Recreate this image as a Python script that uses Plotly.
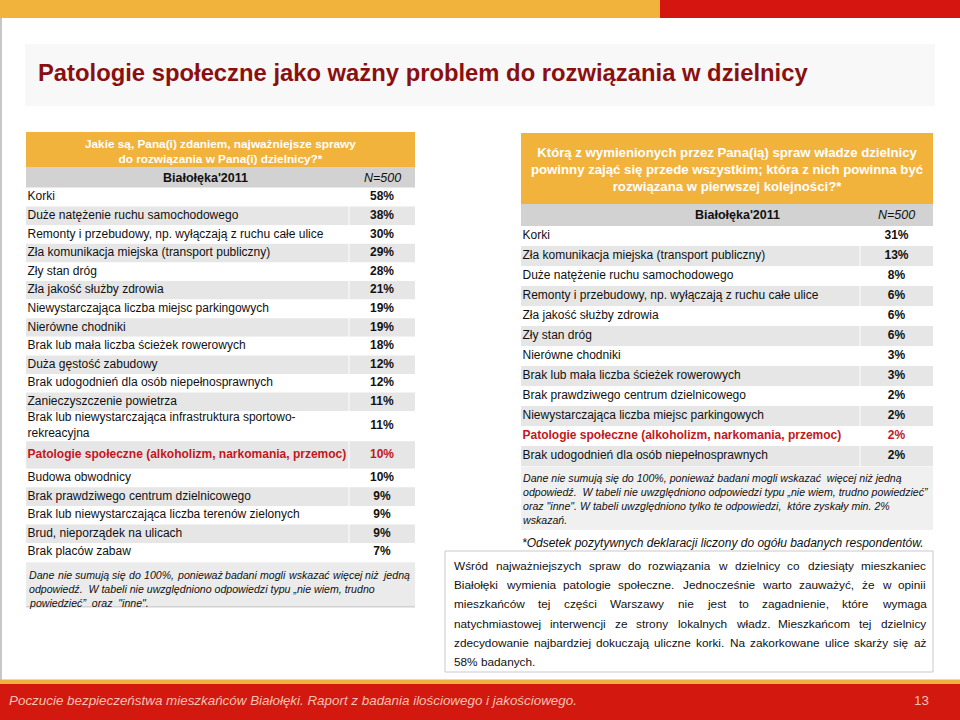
import plotly.graph_objects as go

# ---------------- data ----------------
title = "Patologie społeczne jako ważny problem do rozwiązania w dzielnicy"
left_question = ["Jakie są, Pana(i) zdaniem, najważniejsze sprawy",
                 "do rozwiązania w Pana(i) dzielnicy?*"]
right_question = ["Którą z wymienionych przez Pana(ią) spraw władze dzielnicy",
                  "powinny zająć się przede wszystkim; która z nich powinna być",
                  "rozwiązana w pierwszej kolejności?*"]
group_label = "Białołęka'2011"
n_label = "N=500"
highlight = "Patologie społeczne (alkoholizm, narkomania, przemoc)"

left_items = [
    "Korki",
    "Duże natężenie ruchu samochodowego",
    "Remonty i przebudowy, np. wyłączają z ruchu całe ulice",
    "Zła komunikacja miejska (transport publiczny)",
    "Zły stan dróg",
    "Zła jakość służby zdrowia",
    "Niewystarczająca liczba miejsc parkingowych",
    "Nierówne chodniki",
    "Brak lub mała liczba ścieżek rowerowych",
    "Duża gęstość zabudowy",
    "Brak udogodnień dla osób niepełnosprawnych",
    "Zanieczyszczenie powietrza",
    "Brak lub niewystarczająca infrastruktura sportowo-<br>rekreacyjna",
    "Patologie społeczne (alkoholizm, narkomania, przemoc)",
    "Budowa obwodnicy",
    "Brak prawdziwego centrum dzielnicowego",
    "Brak lub niewystarczająca liczba terenów zielonych",
    "Brud, nieporządek na ulicach",
    "Brak placów zabaw",
]
left_values = [58, 38, 30, 29, 28, 21, 19, 19, 18, 12, 12, 11, 11, 10, 10, 9, 9, 9, 7]

right_items = [
    "Korki",
    "Zła komunikacja miejska (transport publiczny)",
    "Duże natężenie ruchu samochodowego",
    "Remonty i przebudowy, np. wyłączają z ruchu całe ulice",
    "Zła jakość służby zdrowia",
    "Zły stan dróg",
    "Nierówne chodniki",
    "Brak lub mała liczba ścieżek rowerowych",
    "Brak prawdziwego centrum dzielnicowego",
    "Niewystarczająca liczba miejsc parkingowych",
    "Patologie społeczne (alkoholizm, narkomania, przemoc)",
    "Brak udogodnień dla osób niepełnosprawnych",
]
right_values = [31, 13, 8, 6, 6, 6, 3, 3, 2, 2, 2, 2]

left_note = [
    "Dane nie sumują się do 100%, ponieważ badani mogli wskazać więcej niż jedną",
    "odpowiedź.  W tabeli nie uwzględniono odpowiedzi typu „nie wiem, trudno",
    "powiedzieć”  oraz  \"inne\".",
]
right_note = [
    "Dane nie sumują się do 100%, ponieważ badani mogli wskazać  więcej niż jedną",
    "odpowiedź.  W tabeli nie uwzględniono odpowiedzi typu „nie wiem, trudno powiedzieć”",
    "oraz \"inne\". W tabeli uwzględniono tylko te odpowiedzi,  które zyskały min. 2%",
    "wskazań.",
]
asterisk_note = "*Odsetek pozytywnych deklaracji liczony do ogółu badanych respondentów."
paragraph = [
    "Wśród najważniejszych spraw do rozwiązania w dzielnicy co dziesiąty mieszkaniec",
    "Białołęki wymienia patologie społeczne. Jednocześnie warto zauważyć, że w opinii",
    "mieszkańców tej części Warszawy nie jest to zagadnienie, które wymaga",
    "natychmiastowej interwencji ze strony lokalnych władz. Mieszkańcom tej dzielnicy",
    "zdecydowanie najbardziej dokuczają uliczne korki. Na zakorkowane ulice skarży się aż",
    "58% badanych.",
]
footer_text = "Poczucie bezpieczeństwa mieszkańców Białołęki. Raport z badania ilościowego i jakościowego."
page_number = "13"

# ---------------- style ----------------
FONT = "Liberation Sans, Arial, sans-serif"
ORANGE = "#F2B33D"
RED = "#D5150F"
DARKRED = "#8A0F0F"
HILITE = "#C4161C"
GRAY_ROW = "#E6E6E6"
GRAY_HEAD = "#D2D2D2"

# Arial / Liberation Sans advance widths (1/1000 em) for justification
AW = dict(zip("abcdefghijklmnopqrstuvwxyz",
              [556, 556, 500, 556, 556, 278, 556, 556, 222, 222, 500, 222, 833,
               556, 556, 556, 556, 333, 500, 278, 556, 500, 722, 500, 500, 500]))
AW.update(zip("ABCDEFGHIJKLMNOPQRSTUVWXYZ",
              [667, 667, 722, 722, 667, 611, 778, 722, 278, 500, 667, 556, 833,
               722, 778, 667, 778, 722, 667, 611, 722, 667, 944, 667, 667, 611]))
AW.update({c: 556 for c in "0123456789"})
AW.update({" ": 278, ".": 278, ",": 278, ";": 278, ":": 278, "%": 889, "(": 333,
           ")": 333, "-": 333, '"': 355, "'": 191, "„": 333, "”": 333, "?": 556,
           "*": 389, "ą": 556, "ć": 500, "ę": 556, "ł": 222, "ń": 556, "ó": 556,
           "ś": 500, "ź": 500, "ż": 500, "Ś": 667, "Ł": 556, "Ż": 611})


def text_width(s, size):
    return sum(AW.get(ch, 556) for ch in s) / 1000.0 * size


def text_lines(lines, x0, x1, y0, dy, size, italic=False, justify_rows=(), color="#111111"):
    out = []
    for i, line in enumerate(lines):
        y = y0 + i * dy
        words = line.split()
        if i in justify_rows and len(words) > 1:
            widths = [text_width(w, size) for w in words]
            gap = (x1 - x0 - sum(widths)) / (len(words) - 1)
            x = x0
            for w, wd in zip(words, widths):
                t = f"<i>{w}</i>" if italic else w
                out.append(dict(x=x, y=y, text=t, xanchor="left", yanchor="middle",
                                showarrow=False, borderpad=0,
                                font=dict(family=FONT, size=size, color=color)))
                x += wd + gap
        else:
            t = line.replace("  ", " &nbsp;")
            t = f"<i>{t}</i>" if italic else t
            out.append(dict(x=x0, y=y, text=t, xanchor="left", yanchor="middle",
                            showarrow=False, borderpad=0,
                            font=dict(family=FONT, size=size, color=color)))
    return out


fig = go.Figure()
shapes = []
annotations = []


def rect(x0, y0, x1, y1, fill, line=None, lw=0, layer="below"):
    shapes.append(dict(type="rect", xref="x", yref="y", x0=x0, y0=y0, x1=x1, y1=y1,
                       fillcolor=fill, line=dict(color=line or fill, width=lw), layer=layer))


def add_table(items, values, x0, xsep, x1, y_start, row_h, double_h, hi_h, start_white=True):
    heights = []
    for it in items:
        if "<br>" in it:
            heights.append(double_h)
        elif it == highlight:
            heights.append(hi_h)
        else:
            heights.append(row_h)
    centers, y = [], y_start
    for h in heights:
        centers.append(y + h / 2)
        y += h
    fills = [("white" if (i % 2 == 0) == start_white else GRAY_ROW) for i in range(len(items))]
    colors = [HILITE if it == highlight else "#111111" for it in items]
    fig.add_trace(go.Bar(orientation="h", y=centers, x=[xsep - 0.5 - x0] * len(items),
                         base=[x0] * len(items), width=heights,
                         marker=dict(color=fills, line=dict(width=0)),
                         hoverinfo="skip", showlegend=False))
    fig.add_trace(go.Bar(orientation="h", y=centers, x=[x1 - xsep - 0.5] * len(items),
                         base=[xsep + 0.5] * len(items), width=heights,
                         marker=dict(color=fills, line=dict(width=0)),
                         hoverinfo="skip", showlegend=False))
    labels = [f"<b>{it}</b>" if it == highlight else it for it in items]
    fig.add_trace(go.Scatter(x=[x0 + 1.5] * len(items), y=centers, mode="text", text=labels,
                             textposition="middle right",
                             textfont=dict(family=FONT, size=12, color=colors),
                             hoverinfo="skip", showlegend=False, cliponaxis=False))
    fig.add_trace(go.Scatter(x=[(xsep + x1) / 2] * len(items), y=centers, mode="text",
                             text=[f"<b>{v}%</b>" for v in values],
                             textposition="middle center",
                             textfont=dict(family=FONT, size=12, color=colors),
                             hoverinfo="skip", showlegend=False, cliponaxis=False))
    return y


# ---------- page decoration ----------
rect(0, 0, 660, 18, ORANGE)
rect(660, 0, 960, 18, RED)
shapes.append(dict(type="line", xref="x", yref="y", x0=1, x1=1, y0=18, y1=680,
                   line=dict(color="#B5B5B5", width=1.5), layer="below"))
rect(25, 44, 935, 106, "#F8F8F8")
annotations.append(dict(x=36, y=72, text=title, xanchor="left", yanchor="middle",
                        showarrow=False, font=dict(family=FONT, size=23.8, color=DARKRED,
                                                   weight="bold")))

# ---------- left table ----------
LX0, LSEP, LX1 = 26, 349, 415
rect(LX0, 132, LX1, 167, ORANGE)
annotations.append(dict(x=(LX0 + LX1) / 2, y=151, text="<br>".join(left_question),
                        xanchor="center", yanchor="middle", showarrow=False,
                        font=dict(family=FONT, size=11.8, color="white", weight="bold")))
rect(LX0, 167, LX1, 187.5, GRAY_HEAD)
annotations.append(dict(x=205, y=177.5, text=f"<b>{group_label}</b>", xanchor="center",
                        yanchor="middle", showarrow=False,
                        font=dict(family=FONT, size=12.5, color="#111111")))
annotations.append(dict(x=(LSEP + LX1) / 2, y=177.5, text=f"<i>{n_label}</i>", xanchor="center",
                        yanchor="middle", showarrow=False,
                        font=dict(family=FONT, size=12.5, color="#111111")))
lend = add_table(left_items, left_values, LX0, LSEP, LX1, 188, 18.6, 30, 27.5)
rect(LX0, lend + 0.5, LX1, lend + 45, "#EBEBEB")
shapes.append(dict(type="line", xref="x", yref="y", x0=LX0, x1=LX1, y0=lend + 45, y1=lend + 45,
                   line=dict(color="#D2D2D2", width=1.5), layer="below"))
annotations += text_lines(left_note, 28, 407, lend + 13, 14, 10.6, italic=True, justify_rows=(0,))

# ---------- right table ----------
RX0, RSEP, RX1 = 521, 860, 933
rect(RX0, 133, RX1, 204, ORANGE)
annotations.append(dict(x=(RX0 + RX1) / 2, y=169, text="<br>".join(right_question),
                        xanchor="center", yanchor="middle", showarrow=False,
                        font=dict(family=FONT, size=13.2, color="white", weight="bold")))
rect(RX0, 204, RX1, 226, GRAY_HEAD)
annotations.append(dict(x=737, y=215, text=f"<b>{group_label}</b>", xanchor="center",
                        yanchor="middle", showarrow=False,
                        font=dict(family=FONT, size=12.5, color="#111111")))
annotations.append(dict(x=(RSEP + RX1) / 2, y=215, text=f"<i>{n_label}</i>", xanchor="center",
                        yanchor="middle", showarrow=False,
                        font=dict(family=FONT, size=12.5, color="#111111")))
rend = add_table(right_items, right_values, RX0, RSEP, RX1, 226, 20, 30, 20)
rect(RX0, rend + 0.5, RX1, rend + 64, "#F0F0F0")
annotations += text_lines(right_note, 522, 930, rend + 12, 14, 10.6, italic=True)
annotations.append(dict(x=520, y=543, text=f"<i>{asterisk_note}</i>", xanchor="left",
                        yanchor="middle", showarrow=False,
                        font=dict(family=FONT, size=12, color="#111111")))

# ---------- commentary box ----------
rect(445, 551, 933, 672, "white", line="#C9C9C9", lw=1)
annotations += text_lines(paragraph, 453, 925, 566, 19.2, 11.8, justify_rows=(0, 1, 2, 3, 4))

# ---------- footer ----------
rect(0, 679.5, 960, 684, "#F0B040")
rect(0, 684, 960, 720, "#D3180F")
annotations.append(dict(x=7, y=700, text=f"<i>{footer_text}</i>", xanchor="left",
                        yanchor="middle", showarrow=False,
                        font=dict(family=FONT, size=13.4, color="#F6C2B2")))
annotations.append(dict(x=931, y=700, text=page_number, xanchor="right", yanchor="middle",
                        showarrow=False, font=dict(family=FONT, size=13.4, color="#F6C2B2")))

fig.update_layout(
    width=960, height=720, margin=dict(l=0, r=0, t=0, b=0),
    paper_bgcolor="white", plot_bgcolor="white",
    barmode="overlay", showlegend=False,
    xaxis=dict(range=[0, 960], visible=False, fixedrange=True, domain=[0, 1]),
    yaxis=dict(range=[720, 0], visible=False, fixedrange=True, domain=[0, 1]),
    shapes=shapes, annotations=annotations,
)
fig.write_html("out.html", config={"displayModeBar": False})

# remove the browser's default page margin so the 960x720 figure fills the window
with open("out.html", encoding="utf-8") as f:
    html = f.read()
html = html.replace("<head>", "<head><style>html,body{margin:0;padding:0;overflow:hidden;}</style>", 1)
with open("out.html", "w", encoding="utf-8") as f:
    f.write(html)
